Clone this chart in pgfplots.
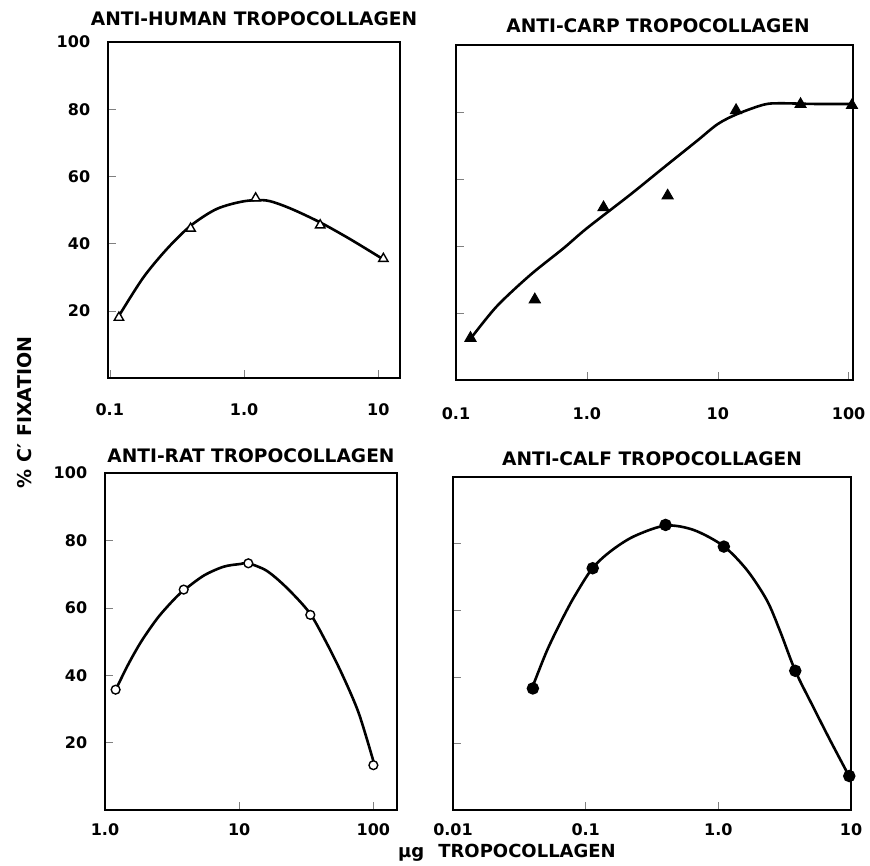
\documentclass[border=0pt]{standalone}
\usepackage{fontspec}
\setmainfont{DejaVu Sans}
\usepackage{pgfplots}
\pgfplotsset{compat=1.18}

\pgfplotsset{
  panel/.style={
    scale only axis, ymin=0, ymax=100,
    ytick={20,40,60,80,100},
    tick pos=left, tick align=inside, major tick length=4pt,
    xminorticks=false,
    line width=1.2pt,
    tick label style={font=\fontsize{8}{9}\selectfont\bfseries},
    yticklabel style={xshift=-5pt},
    title style={font=\fontsize{9.3}{10}\selectfont\bfseries, anchor=center, at={(0.5,1)}},
    /pgf/number format/assume math mode=true,
    clip=false,
  },
  curve/.style={black, line width=1.3pt, smooth, no marks},
}

\begin{document}
\begin{tikzpicture}
\path[use as bounding box] (0,0) rectangle (435pt,432.5pt);

% top left
\begin{semilogxaxis}[panel, at={(54pt,243.5pt)}, anchor=south west,
  width=146pt, height=168pt, xmin=0.097, xmax=14.5,
  xtick={0.1,1,10}, xticklabels={0.1,1.0,10},
  yticklabels={20,40,60,80,100},
  xticklabel style={yshift=-9pt},
  title={ANTI-HUMAN TROPOCOLLAGEN}, title style={yshift=5.75pt}]
  \addplot[curve] coordinates {(0.117,18.5)(0.177,29.8)(0.265,38.3)(0.40,45.3)(0.625,50.3)(1.0,52.6)(1.48,52.8)(2.2,50.5)(3.69,46.3)(6.18,41.3)(10.9,35.3)};
  \addplot[only marks, mark=triangle*, mark size=2.7pt, mark options={fill=white, draw=black, line width=0.7pt}]
    coordinates {(0.117,18)(0.40,44.5)(1.22,53.5)(3.69,45.5)(10.9,35.5)};
\end{semilogxaxis}

% top right
\begin{semilogxaxis}[panel, at={(228pt,242.5pt)}, anchor=south west,
  width=198.5pt, height=167.5pt, xmin=0.1, xmax=108,
  xtick={0.1,1,10,100}, xticklabels={0.1,1.0,10,100},
  yticklabels={},
  xticklabel style={yshift=-10pt},
  title={ANTI-CARP TROPOCOLLAGEN}, title style={yshift=3.75pt, xshift=1.75pt}]
  \addplot[curve] coordinates {(0.132,12.8)(0.205,22.0)(0.368,31.3)(0.662,39.3)(1.0,45.3)(2.14,55.3)(3.86,63.4)(6.95,71.4)(10,76.4)(14.1,79.4)(22.5,82.2)(30.1,82.6)(54.2,82.4)(106,82.4)};
  \addplot[only marks, mark=triangle*, mark size=3.2pt, mark options={fill=black, draw=black, line width=0.5pt}]
    coordinates {(0.129,12.5)(0.40,24)(1.34,51.5)(4.14,55)(13.8,80.5)(42.9,82.3)(106,82)};
\end{semilogxaxis}

% bottom left
\begin{semilogxaxis}[panel, at={(52.5pt,27.5pt)}, anchor=south west,
  width=146pt, height=168.5pt, xmin=1.0, xmax=150,
  xtick={1,10,100}, xticklabels={1.0,10,100},
  yticklabels={20,40,60,80,100},
  xticklabel style={yshift=-3pt},
  title={ANTI-RAT TROPOCOLLAGEN}, title style={yshift=2.75pt}]
  \addplot[curve] coordinates {(1.22,36.2)(1.49,43.2)(1.87,50.1)(2.48,57.1)(3.29,62.6)(3.90,65.3)(5.47,69.6)(7.67,72.2)(10.2,73.0)(11.7,73.2)(16.0,71.0)(22.4,66.1)(33.3,58.6)(44.1,50.1)(58.6,40.2)(77.7,28.8)(100,14.5)};
  \addplot[only marks, mark=*, mark size=2.2pt, mark options={fill=white, draw=black, line width=0.7pt}]
    coordinates {(1.2,35.7)(3.86,65.4)(11.7,73.2)(33.9,57.9)(100,13.3)};
\end{semilogxaxis}

% bottom right
\begin{semilogxaxis}[panel, at={(226.5pt,27.5pt)}, anchor=south west,
  width=199pt, height=166.5pt, xmin=0.01, xmax=10,
  xtick={0.01,0.1,1,10}, xticklabels={0.01,0.1,1.0,10},
  yticklabels={},
  xticklabel style={yshift=-3pt},
  title={ANTI-CALF TROPOCOLLAGEN}, title style={yshift=3.25pt}]
  \addplot[curve] coordinates {(0.0405,37.8)(0.051,47.8)(0.0644,56.2)(0.0811,63.7)(0.1115,72.4)(0.153,77.6)(0.229,82.1)(0.398,85.4)(0.65,84.1)(1.09,79.3)(1.64,72.1)(2.32,63.0)(2.92,53.7)(3.80,41.8)(5.21,30.8)(6.97,20.9)(9.6,10.4)};
  \addplot[only marks, mark=*, mark size=2.5pt, mark options={fill=black, draw=black}]
    coordinates {(0.04,36.5)(0.113,72.6)(0.40,85.6)(1.1,79.1)(3.8,41.8)(9.7,10.2)};
\end{semilogxaxis}

\node[rotate=90, font=\fontsize{9.5}{10}\selectfont\bfseries] at (12.5pt,226.25pt) {\% C′ FIXATION};
\node[font=\fontsize{9}{10}\selectfont\bfseries] at (253.5pt,6pt) {μg\hspace{7pt}TROPOCOLLAGEN};
\end{tikzpicture}
\end{document}
